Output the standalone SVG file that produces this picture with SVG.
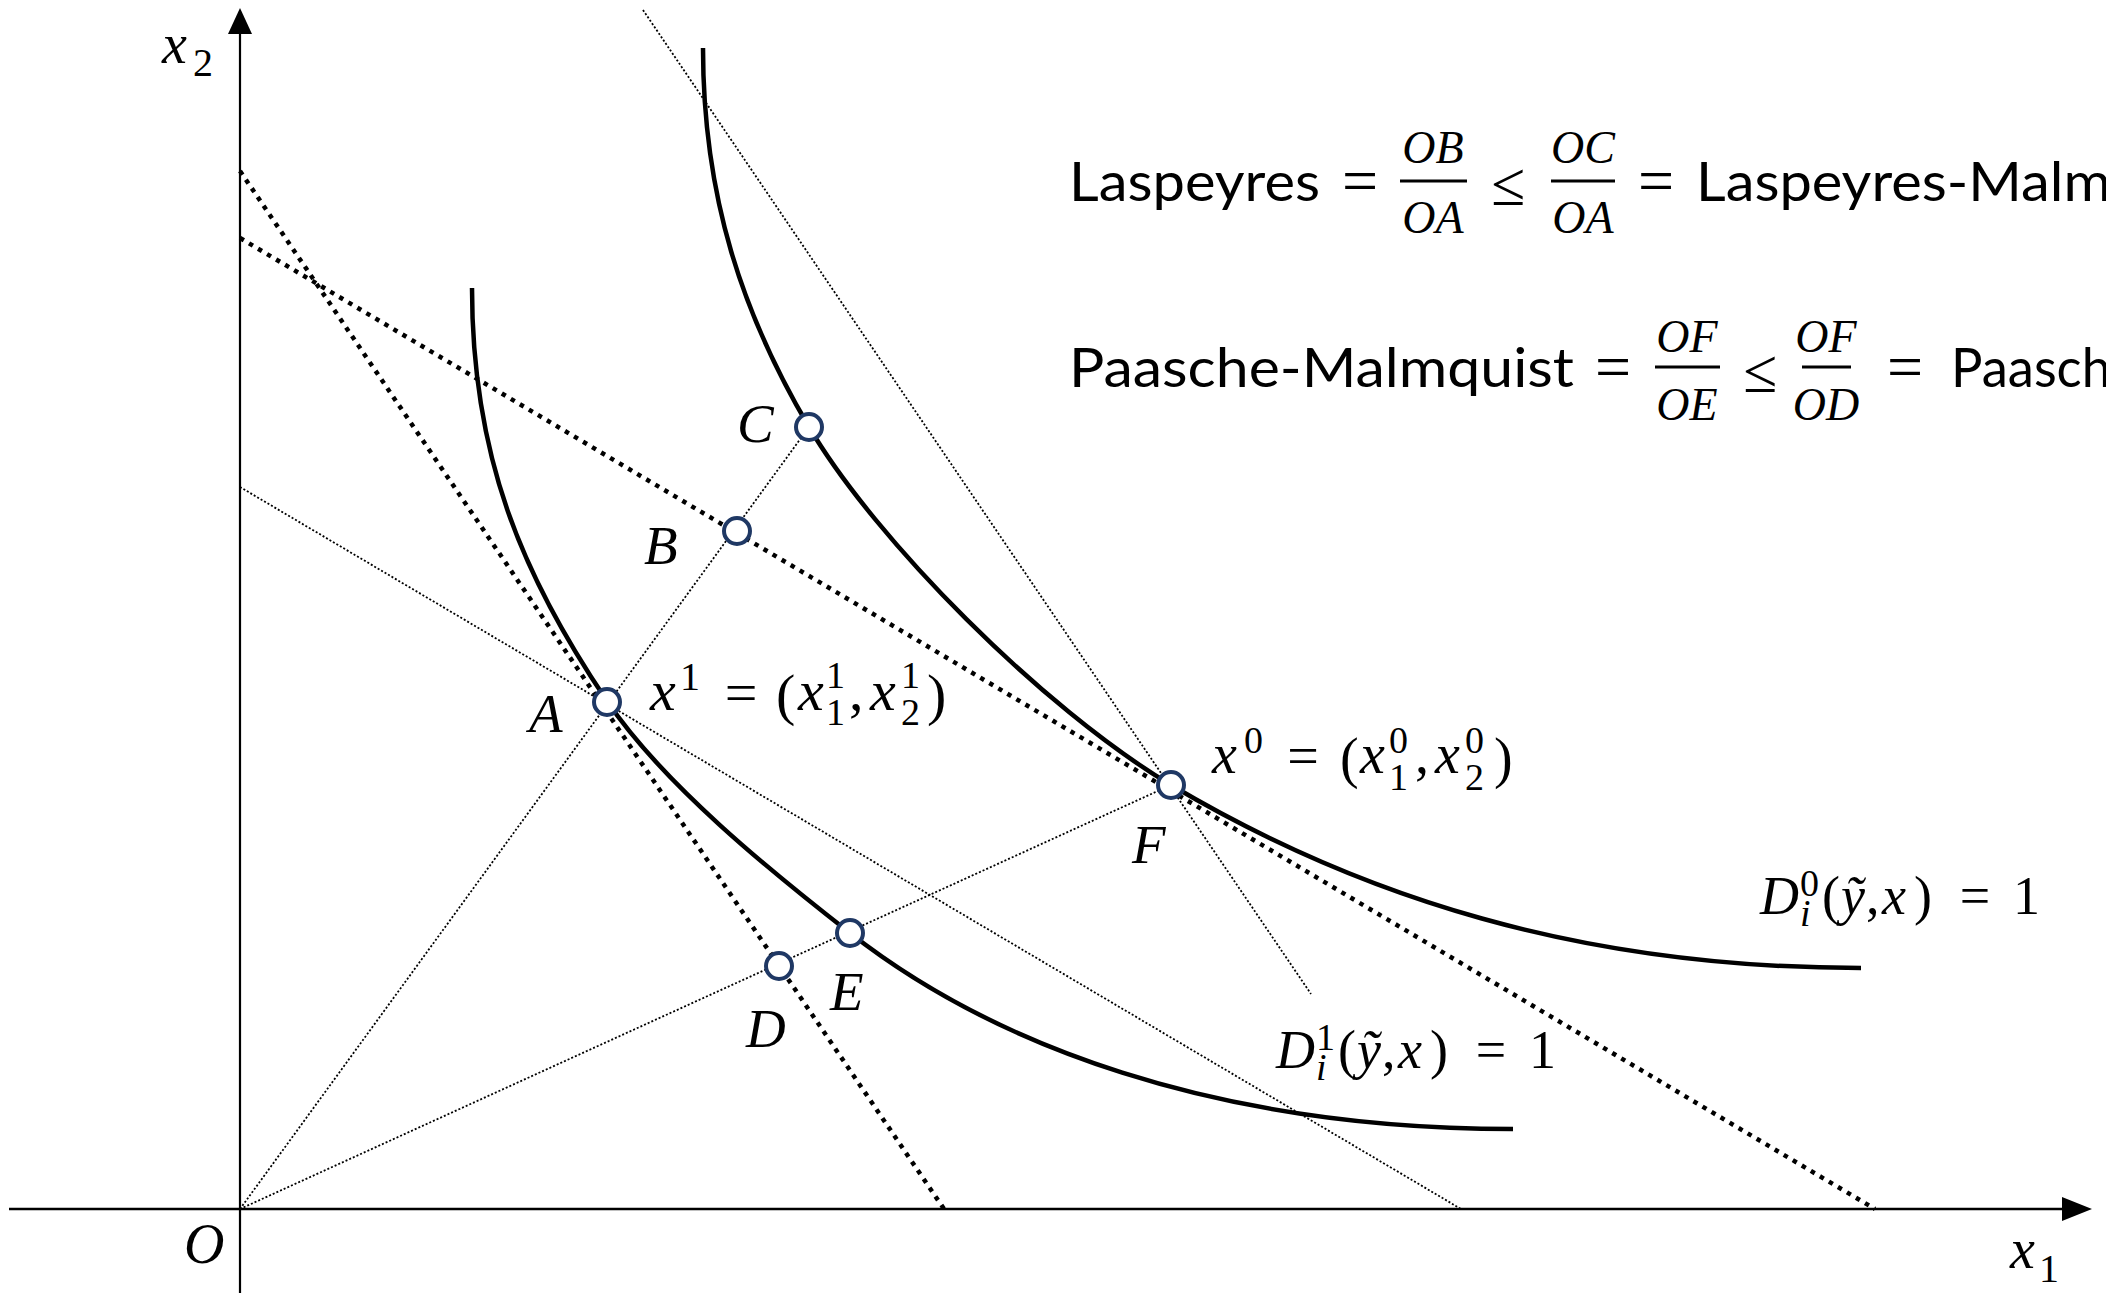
<svg xmlns="http://www.w3.org/2000/svg" width="2106" height="1293" viewBox="0 0 2106 1293">
<style>
.ax{stroke:#000;stroke-width:2.2;fill:none}
.curve{stroke:#000;stroke-width:4.5;fill:none}
.thick{stroke:#000;stroke-width:4.5;stroke-dasharray:4.5 6;fill:none}
.thin{stroke:#000;stroke-width:1.8;stroke-dasharray:2 2;fill:none}
.pt{fill:#fff;stroke:#1F3864;stroke-width:4}
.bar{stroke:#000;stroke-width:3}
text{fill:#000}
.m{font-family:'Liberation Serif','DejaVu Serif',serif;font-style:italic}
.u{font-family:'Liberation Serif','DejaVu Serif',serif;font-style:normal}
.w{font-family:Lato,'Open Sans',sans-serif}
</style>
<rect width="2106" height="1293" fill="#fff"/>
<g id="axes">
  <line class="ax" x1="240" y1="1293" x2="240" y2="30"/>
  <polygon points="240,8 228,34 252,34" fill="#000"/>
  <line class="ax" x1="9" y1="1209" x2="2066" y2="1209" style="stroke-width:2.6"/>
  <polygon points="2092,1209 2062,1197 2062,1221" fill="#000"/>
  <text class="m" x="162" y="63" font-size="56">x</text>
  <text class="u" x="193" y="76" font-size="40">2</text>
  <text class="m" x="2010" y="1268" font-size="56">x</text>
  <text class="u" x="2039" y="1282" font-size="40">1</text>
  <text class="m" x="184" y="1263" font-size="56">O</text>
</g>
<g id="connectors">
  <line class="thin" x1="240" y1="1209" x2="809" y2="427"/>
  <line class="thin" x1="240" y1="1209" x2="1171" y2="785"/>
  <line class="thin" x1="240" y1="487" x2="1461" y2="1209"/>
  <line class="thin" x1="643" y1="10" x2="1311" y2="994"/>
  <line class="thick" x1="240" y1="171" x2="944" y2="1209"/>
  <line class="thick" x1="240" y1="238" x2="1875" y2="1209"/>
</g>
<g id="isoquants">
  <path id="D0" class="curve" d="M703,48 C703,198 743,315 809,427 C875,539 1042,708 1171,785 C1360,897 1581,968 1861,968"/>
  <path id="D1" class="curve" d="M472,288 C472,458 523,577 607,701 C663,784 771,871.5 850,933 C992,1044 1213,1129 1513,1129"/>
</g>
<g id="node-A">
  <circle class="pt" cx="607" cy="702" r="13"/>
  <text class="m" x="529" y="732" font-size="55">A</text>
  <text class="m" x="650" y="710" font-size="58">x</text>
  <text class="u" x="680" y="690" font-size="40">1</text>
  <text class="u" x="741" y="712" font-size="58" text-anchor="middle">=</text>
  <text class="u" x="776" y="714" font-size="58">(</text>
  <text class="m" x="798" y="710" font-size="58">x</text>
  <text class="u" x="826" y="688" font-size="38">1</text>
  <text class="u" x="826" y="725" font-size="38">1</text>
  <text class="u" x="849" y="710" font-size="58">,</text>
  <text class="m" x="870" y="710" font-size="58">x</text>
  <text class="u" x="901" y="688" font-size="38">1</text>
  <text class="u" x="901" y="725" font-size="38">2</text>
  <text class="u" x="927" y="714" font-size="58">)</text>
</g>
<g id="node-B">
  <circle class="pt" cx="737" cy="531" r="13"/>
  <text class="m" x="644" y="564" font-size="55">B</text>
</g>
<g id="node-C">
  <circle class="pt" cx="809" cy="427" r="13"/>
  <text class="m" x="737" y="442" font-size="55">C</text>
</g>
<g id="node-D">
  <circle class="pt" cx="779" cy="966" r="13"/>
  <text class="m" x="746" y="1047" font-size="55">D</text>
</g>
<g id="node-E">
  <circle class="pt" cx="850" cy="933" r="13"/>
  <text class="m" x="830" y="1010" font-size="55">E</text>
</g>
<g id="node-F">
  <circle class="pt" cx="1171" cy="785" r="13"/>
  <text class="m" x="1132" y="863" font-size="55">F</text>
  <text class="m" x="1212" y="773" font-size="56">x</text>
  <text class="u" x="1244" y="753" font-size="38">0</text>
  <text class="u" x="1303" y="775" font-size="56" text-anchor="middle">=</text>
  <text class="u" x="1340" y="777" font-size="56">(</text>
  <text class="m" x="1360" y="773" font-size="56">x</text>
  <text class="u" x="1389" y="753" font-size="38">0</text>
  <text class="u" x="1389" y="790" font-size="38">1</text>
  <text class="u" x="1415" y="773" font-size="56">,</text>
  <text class="m" x="1435" y="773" font-size="56">x</text>
  <text class="u" x="1465" y="753" font-size="38">0</text>
  <text class="u" x="1465" y="790" font-size="38">2</text>
  <text class="u" x="1494" y="777" font-size="56">)</text>
</g>
<g id="label-D0">
  <text class="m" x="1760" y="914" font-size="54">D</text>
  <text class="u" x="1800" y="896" font-size="38">0</text>
  <text class="m" x="1800" y="926" font-size="38">i</text>
  <text class="u" x="1822" y="914" font-size="54">(</text>
  <text class="m" x="1841" y="914" font-size="54">ỹ</text>
  <text class="u" x="1866" y="914" font-size="54">,</text>
  <text class="m" x="1882" y="914" font-size="54">x</text>
  <text class="u" x="1914" y="914" font-size="54">)</text>
  <text class="u" x="1975" y="914" font-size="54" text-anchor="middle">=</text>
  <text class="u" x="2013" y="914" font-size="54">1</text>
</g>
<g id="label-D1">
  <text class="m" x="1276" y="1068" font-size="54">D</text>
  <text class="u" x="1316" y="1050" font-size="38">1</text>
  <text class="m" x="1316" y="1080" font-size="38">i</text>
  <text class="u" x="1338" y="1068" font-size="54">(</text>
  <text class="m" x="1357" y="1068" font-size="54">ỹ</text>
  <text class="u" x="1382" y="1068" font-size="54">,</text>
  <text class="m" x="1398" y="1068" font-size="54">x</text>
  <text class="u" x="1430" y="1068" font-size="54">)</text>
  <text class="u" x="1491" y="1068" font-size="54" text-anchor="middle">=</text>
  <text class="u" x="1529" y="1068" font-size="54">1</text>
</g>
<g id="formula-laspeyres">
  <text class="w" x="1069" y="201" font-size="54" textLength="251" lengthAdjust="spacingAndGlyphs">Laspeyres</text>
  <text class="u" x="1360" y="202" font-size="64" text-anchor="middle">=</text>
  <text class="m" x="1433" y="163" font-size="46" text-anchor="middle">OB</text>
  <line class="bar" x1="1400" y1="181" x2="1467" y2="181"/>
  <text class="m" x="1433" y="233" font-size="46" text-anchor="middle">OA</text>
  <text class="u" x="1508" y="205" font-size="62" text-anchor="middle">≤</text>
  <text class="m" x="1583" y="163" font-size="46" text-anchor="middle">OC</text>
  <line class="bar" x1="1551" y1="181" x2="1615" y2="181"/>
  <text class="m" x="1583" y="233" font-size="46" text-anchor="middle">OA</text>
  <text class="u" x="1656" y="202" font-size="64" text-anchor="middle">=</text>
  <text class="w" x="1696" y="201" font-size="54" textLength="415" lengthAdjust="spacingAndGlyphs">Laspeyres-Malm</text>
</g>
<g id="formula-paasche">
  <text class="w" x="1069" y="387" font-size="54" textLength="505" lengthAdjust="spacingAndGlyphs">Paasche-Malmquist</text>
  <text class="u" x="1613" y="388" font-size="64" text-anchor="middle">=</text>
  <text class="m" x="1687" y="352" font-size="46" text-anchor="middle">OF</text>
  <line class="bar" x1="1655" y1="367" x2="1720" y2="367"/>
  <text class="m" x="1687" y="420" font-size="46" text-anchor="middle">OE</text>
  <text class="u" x="1760" y="392" font-size="62" text-anchor="middle">≤</text>
  <text class="m" x="1826" y="352" font-size="46" text-anchor="middle">OF</text>
  <line class="bar" x1="1802" y1="367" x2="1851" y2="367"/>
  <text class="m" x="1826" y="420" font-size="46" text-anchor="middle">OD</text>
  <text class="u" x="1905" y="388" font-size="64" text-anchor="middle">=</text>
  <text class="w" x="1951" y="387" font-size="54" textLength="160" lengthAdjust="spacingAndGlyphs">Paasch</text>
</g>
</svg>
